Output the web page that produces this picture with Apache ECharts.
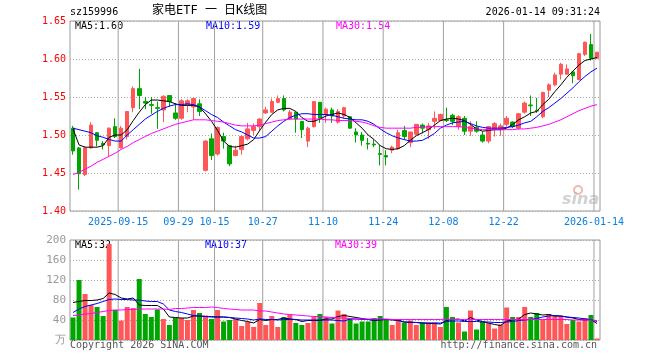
<!DOCTYPE html>
<html>
<head>
<meta charset="utf-8">
<script src="https://cdn.jsdelivr.net/npm/echarts@6/dist/echarts.min.js"></script>
<style>
html,body{margin:0;padding:0;background:#fff;}
#c{width:660px;height:360px;}
</style>
</head>
<body>
<div id="c"></div>
<script>
const dates = [
'2025-09-03','2025-09-04','2025-09-05','2025-09-08','2025-09-09','2025-09-10','2025-09-11','2025-09-12','2025-09-15','2025-09-16',
'2025-09-17','2025-09-18','2025-09-19','2025-09-22','2025-09-23','2025-09-24','2025-09-25','2025-09-26','2025-09-29','2025-09-30',
'2025-10-09','2025-10-10','2025-10-13','2025-10-14','2025-10-15','2025-10-16','2025-10-17','2025-10-20','2025-10-21','2025-10-22',
'2025-10-23','2025-10-24','2025-10-27','2025-10-28','2025-10-29','2025-10-30','2025-10-31','2025-11-03','2025-11-04','2025-11-05',
'2025-11-06','2025-11-07','2025-11-10','2025-11-11','2025-11-12','2025-11-13','2025-11-14','2025-11-17','2025-11-18','2025-11-19',
'2025-11-20','2025-11-21','2025-11-24','2025-11-25','2025-11-26','2025-11-27','2025-11-28','2025-12-01','2025-12-02','2025-12-03',
'2025-12-04','2025-12-05','2025-12-08','2025-12-09','2025-12-10','2025-12-11','2025-12-12','2025-12-15','2025-12-16','2025-12-17',
'2025-12-18','2025-12-19','2025-12-22','2025-12-23','2025-12-24','2025-12-25','2025-12-26','2025-12-29','2025-12-30','2025-12-31',
'2026-01-05','2026-01-06','2026-01-07','2026-01-08','2026-01-09','2026-01-12','2026-01-13','2026-01-14'];

const opens = [1.509,1.483,1.448,1.483,1.503,1.489,1.486,1.511,1.483,1.498,
1.536,1.561,1.544,1.540,1.536,1.533,1.552,1.529,1.522,1.539,
1.537,1.541,1.4535,1.495,1.475,1.498,1.486,1.473,1.481,1.495,
1.506,1.511,1.529,1.530,1.543,1.548,1.521,1.530,1.518,1.492,
1.511,1.543,1.527,1.533,1.517,1.525,1.524,1.504,1.500,1.489,
1.488,1.4755,1.473,1.480,1.482,1.506,1.490,1.501,1.513,1.507,
1.518,1.519,1.520,1.526,1.511,1.522,1.505,1.510,1.500,1.492,
1.507,1.507,1.514,1.517,1.509,1.530,1.5395,1.5325,1.524,1.559,
1.566,1.580,1.580,1.583,1.573,1.606,1.619,1.601];
const closes = [1.479,1.449,1.483,1.513,1.493,1.487,1.509,1.498,1.509,1.531,
1.561,1.552,1.542,1.539,1.535,1.551,1.544,1.522,1.545,1.545,
1.548,1.531,1.492,1.473,1.510,1.492,1.462,1.480,1.498,1.508,
1.511,1.521,1.533,1.544,1.548,1.533,1.530,1.521,1.507,1.509,
1.544,1.522,1.534,1.525,1.531,1.536,1.509,1.500,1.493,1.488,
1.487,1.4745,1.471,1.484,1.503,1.498,1.504,1.514,1.509,1.512,
1.522,1.527,1.519,1.518,1.524,1.505,1.511,1.505,1.492,1.511,
1.515,1.512,1.522,1.511,1.528,1.542,1.5385,1.5315,1.556,1.566,
1.579,1.593,1.587,1.578,1.607,1.622,1.601,1.609];
const lows = [1.474,1.428,1.446,1.482,1.485,1.481,1.472,1.496,1.482,1.494,
1.530,1.534,1.534,1.528,1.508,1.517,1.537,1.520,1.520,1.530,
1.520,1.525,1.452,1.467,1.473,1.482,1.459,1.472,1.474,1.493,
1.500,1.505,1.528,1.529,1.542,1.531,1.520,1.503,1.496,1.484,
1.510,1.516,1.516,1.516,1.515,1.522,1.508,1.490,1.486,1.481,
1.484,1.460,1.460,1.476,1.481,1.494,1.484,1.500,1.502,1.495,
1.508,1.518,1.517,1.513,1.507,1.500,1.499,1.503,1.490,1.489,
1.498,1.499,1.511,1.509,1.507,1.528,1.525,1.529,1.522,1.550,
1.564,1.573,1.579,1.568,1.572,1.604,1.598,1.600];
const highs = [1.512,1.484,1.485,1.517,1.504,1.492,1.510,1.522,1.512,1.531,
1.564,1.587,1.550,1.550,1.544,1.552,1.552,1.542,1.547,1.547,
1.549,1.547,1.493,1.502,1.511,1.503,1.486,1.486,1.500,1.516,
1.515,1.522,1.537,1.548,1.552,1.552,1.533,1.530,1.518,1.511,
1.544,1.543,1.536,1.536,1.534,1.537,1.524,1.509,1.504,1.496,
1.494,1.487,1.480,1.486,1.507,1.512,1.504,1.514,1.515,1.516,
1.531,1.528,1.536,1.528,1.526,1.525,1.518,1.518,1.505,1.512,
1.517,1.515,1.525,1.518,1.529,1.544,1.552,1.549,1.557,1.568,
1.582,1.595,1.593,1.584,1.608,1.623,1.633,1.609];

const ma5 = [1.508,1.487,1.484,1.484,1.484,1.486,1.497,1.500,1.500,1.507,
1.519,1.530,1.540,1.546,1.546,1.545,1.544,1.541,1.539,1.539,
1.539,1.537,1.528,1.518,1.506,1.492,1.485,1.484,1.486,1.488,
1.494,1.506,1.517,1.527,1.533,1.535,1.535,1.531,1.523,1.518,
1.518,1.521,1.525,1.527,1.529,1.527,1.523,1.516,1.509,1.500,
1.494,1.486,1.482,1.481,1.482,1.486,1.493,1.499,1.503,1.507,
1.513,1.519,1.521,1.522,1.521,1.519,1.514,1.508,1.505,1.506,
1.507,1.507,1.509,1.514,1.520,1.524,1.529,1.531,1.540,1.547,
1.557,1.566,1.576,1.584,1.592,1.598,1.600,1.602];
const ma10 = [1.509,1.507,1.505,1.503,1.499,1.497,1.494,1.492,1.492,1.500,
1.507,1.514,1.521,1.526,1.531,1.535,1.538,1.540,1.540,1.541,
1.540,1.537,1.532,1.527,1.523,1.517,1.512,1.507,1.504,1.500,
1.496,1.496,1.498,1.505,1.512,1.518,1.523,1.526,1.528,1.528,
1.527,1.527,1.527,1.526,1.524,1.522,1.521,1.520,1.520,1.518,
1.514,1.508,1.503,1.499,1.496,1.494,1.492,1.492,1.493,1.497,
1.502,1.509,1.513,1.516,1.517,1.518,1.515,1.512,1.510,1.509,
1.509,1.509,1.510,1.511,1.513,1.516,1.518,1.524,1.531,1.536,
1.542,1.548,1.555,1.562,1.570,1.577,1.583,1.588];
const ma30 = [1.448,1.451,1.455,1.459,1.464,1.468,1.472,1.476,1.481,1.485,
1.490,1.494,1.498,1.502,1.505,1.508,1.511,1.514,1.516,1.518,
1.520,1.520,1.520,1.519,1.518,1.517,1.515,1.513,1.512,1.512,
1.512,1.513,1.515,1.517,1.519,1.520,1.521,1.521,1.521,1.521,
1.521,1.521,1.520,1.520,1.519,1.519,1.519,1.518,1.517,1.515,
1.512,1.510,1.509,1.509,1.509,1.509,1.509,1.510,1.510,1.511,
1.511,1.511,1.511,1.511,1.511,1.510,1.509,1.508,1.507,1.507,
1.507,1.507,1.507,1.507,1.508,1.508,1.509,1.510,1.512,1.514,
1.517,1.520,1.524,1.528,1.532,1.535,1.538,1.540];

const volumes = [45,120,92,70,66,48,192,60,39,66,
64,122,52,46,61,42,30,44,44,40,
60,54,49,42,60,37,40,42,28,36,
26,74,30,48,26,46,51,34,30,34,
46,52,46,33,59,52,44,33,37,37,
44,48,40,30,40,35,39,30,35,35,
35,26,66,46,35,17,59,21,37,34,
23,31,65,46,46,66,46,54,40,52,
48,48,32,40,37,44,50,3];
const volMa5 = [75,77,79,79,80,83,94,91,84,82,
84,70,69,69,69,62,46,45,44,44,
48,48,47,46,46,46,45,42,39,37,
34,41,39,41,41,44,42,41,37,39,
39,39,42,42,47,49,47,45,43,41,
39,40,41,40,39,36,35,35,34,33,
33,32,39,41,42,38,45,40,37,34,
31,29,38,40,42,51,54,52,50,51,
48,48,46,44,41,40,41,33];
const volMa10 = [55,62,67,70,73,77,81,82,81,81,
80,80,78,77,77,72,60,57,55,52,
49,48,47,47,46,46,45,44,43,42,
40,42,41,41,40,41,41,41,40,40,
40,40,40,40,39,38,42,42,41,41,
40,41,41,41,40,36,36,35,34,34,
34,34,37,38,38,37,37,37,36,36,
35,35,36,37,39,40,41,43,46,48,
49,48,46,45,44,42,41,37];
const volMa30 = [49,50,52,53,55,57,59,60,60,61,
61,62,62,62,62,62,61,63,63,64,
65,65,65,66,65,63,62,61,60,60,
60,58,58,56,54,52,51,50,49,48,
47,47,46,45,44,44,43,42,42,42,
42,42,42,41,41,41,41,41,41,41,
41,41,42,41,41,41,41,41,41,41,
41,41,41,41,41,41,41,41,41,41,
41,41,41,40,40,40,40,39];

const tickIdx = [8,18,24,32,42,52,62,72,87];
const tickText = ['2025-09-15','09-29','10-15','10-27','11-10','11-24','12-08','12-22','2026-01-14'];
const priceRange = [1.40, 1.65];
const volRange = [0, 200];

const RED = '#ff5757', GREEN = '#00a600';
const MONO = '"DejaVu Sans Mono", monospace';

const candleData = dates.map((d,i)=>[opens[i],closes[i],lows[i],highs[i]]);
const volData = volumes.map((v,i)=>({value:v,itemStyle:{color: closes[i]>=opens[i]?RED:GREEN}}));

const chart = echarts.init(document.getElementById('c'), null, {renderer:'canvas'});
const isTick = (idx)=> tickIdx.indexOf(idx) >= 0;

const xBase = {
  type:'category', data:dates, boundaryGap:true,
  axisLine:{show:false}, axisTick:{show:false},
  splitLine:{show:false}
};
// hidden linear day axes (0 .. n): value i sits on the left edge of day i's band
const dayAxis = (g)=>({type:'value', gridIndex:g, min:0, max:dates.length, show:false});

// vertical guides at the labelled days, drawn as two-point line series on the day axes
const guideSeries = [];
[[2,0,priceRange],[3,1,volRange]].forEach(([xi, yi, rng])=>{
  tickIdx.forEach(i=>{
    guideSeries.push({type:'line', xAxisIndex:xi, yAxisIndex:yi, data:[[i, rng[0]],[i, rng[1]]],
      showSymbol:false, silent:true, z:1, animation:false, clip:false,
      lineStyle:{color:'#a0a0a0', width:1, type:'solid'}, emphasis:{disabled:true}});
  });
});

chart.setOption({
  animation:false,
  backgroundColor:'#fff',
  grid:[
    {left:70, top:21, width:530, height:190, show:true, borderColor:'#999', borderWidth:1},
    {left:70, top:240, width:530, height:100, show:true, borderColor:'#999', borderWidth:1}
  ],
  xAxis:[
    Object.assign({}, xBase, {gridIndex:0,
      axisLabel:{show:true, interval:(i)=>isTick(i), color:'#0a7fe0', fontFamily:MONO, fontSize:10, margin:6,
        padding:[0,6,0,0],
        formatter:(v,i)=>{const k=tickIdx.indexOf(i); return k>=0?tickText[k]:'';}}}),
    Object.assign({}, xBase, {gridIndex:1, axisLabel:{show:false}}),
    dayAxis(0),
    dayAxis(1)
  ],
  yAxis:[
    {type:'value', gridIndex:0, min:priceRange[0], max:priceRange[1], interval:0.05, position:'left',
     axisLine:{show:false}, axisTick:{show:false},
     axisLabel:{color:'#f00', fontFamily:MONO, fontSize:10, margin:4, formatter:(v)=>v.toFixed(2)},
     splitLine:{show:true, lineStyle:{color:'#aaa', type:[1,2], width:1}}},
    {type:'value', gridIndex:1, min:volRange[0], max:volRange[1], interval:40, position:'left',
     axisLine:{show:false}, axisTick:{show:false},
     axisLabel:{color:'#999', fontFamily:MONO, fontSize:11, margin:4, formatter:(v)=> v===0?'万':String(v)},
     splitLine:{show:true, lineStyle:{color:'#aaa', type:[1,2], width:1}}}
  ],
  series: guideSeries.concat([
    {type:'candlestick', xAxisIndex:0, yAxisIndex:0, data:candleData, barWidth:4,
     itemStyle:{color:RED, color0:GREEN, borderColor:RED, borderColor0:GREEN, borderWidth:1}, z:2},
    {type:'line', xAxisIndex:0, yAxisIndex:0, data:ma5, showSymbol:false, lineStyle:{color:'#000', width:1}, itemStyle:{color:'#000'}, z:3},
    {type:'line', xAxisIndex:0, yAxisIndex:0, data:ma10, showSymbol:false, lineStyle:{color:'#0000ff', width:1}, itemStyle:{color:'#0000ff'}, z:3},
    {type:'line', xAxisIndex:0, yAxisIndex:0, data:ma30, showSymbol:false, lineStyle:{color:'#ff00ff', width:1}, itemStyle:{color:'#ff00ff'}, z:3},
    {type:'bar', xAxisIndex:1, yAxisIndex:1, data:volData, barWidth:5, z:2},
    {type:'line', xAxisIndex:1, yAxisIndex:1, data:volMa5, showSymbol:false, lineStyle:{color:'#000', width:1}, itemStyle:{color:'#000'}, z:3},
    {type:'line', xAxisIndex:1, yAxisIndex:1, data:volMa10, showSymbol:false, lineStyle:{color:'#0000ff', width:1}, itemStyle:{color:'#0000ff'}, z:3},
    {type:'line', xAxisIndex:1, yAxisIndex:1, data:volMa30, showSymbol:false, lineStyle:{color:'#ff00ff', width:1}, itemStyle:{color:'#ff00ff'}, z:3}
  ]),
  graphic:[
    {type:'text', left:70, top:7, style:{text:'sz159996', fill:'#000', font:'10px '+MONO}},
    {type:'text', left:152, top:5, style:{text:'家电ETF 一 日K线图', fill:'#000', font:'12px "DejaVu Sans Mono", "Noto Sans CJK SC"'}},
    {type:'text', right:60, top:7, style:{text:'2026-01-14 09:31:24', fill:'#000', font:'10px '+MONO}},
    {type:'text', left:75, top:21, style:{text:'MA5:1.60', fill:'#000', font:'10px '+MONO}},
    {type:'text', left:206, top:21, style:{text:'MA10:1.59', fill:'#0000ff', font:'10px '+MONO}},
    {type:'text', left:336, top:21, style:{text:'MA30:1.54', fill:'#ff00ff', font:'10px '+MONO}},
    {type:'text', left:75, top:240, style:{text:'MA5:32', fill:'#000', font:'10px '+MONO}},
    {type:'text', left:205, top:240, style:{text:'MA10:37', fill:'#0000ff', font:'10px '+MONO}},
    {type:'text', left:335, top:240, style:{text:'MA30:39', fill:'#ff00ff', font:'10px '+MONO}},
    {type:'text', left:70, top:340, style:{text:'Copyright 2026 SINA.COM', fill:'#555', font:'10px '+MONO}},
    {type:'text', right:63, top:340, style:{text:'http://finance.sina.com.cn', fill:'#555', font:'10px '+MONO}},
    {type:'circle', shape:{cx:578, cy:190, r:4}, style:{fill:'none', stroke:'rgba(240,150,150,0.7)', lineWidth:2}},
    {type:'text', left:562, top:192, style:{text:'sina', fill:'rgba(180,180,180,0.6)', font:'italic bold 16px "DejaVu Sans"'}}
  ]
});
</script>
</body>
</html>
